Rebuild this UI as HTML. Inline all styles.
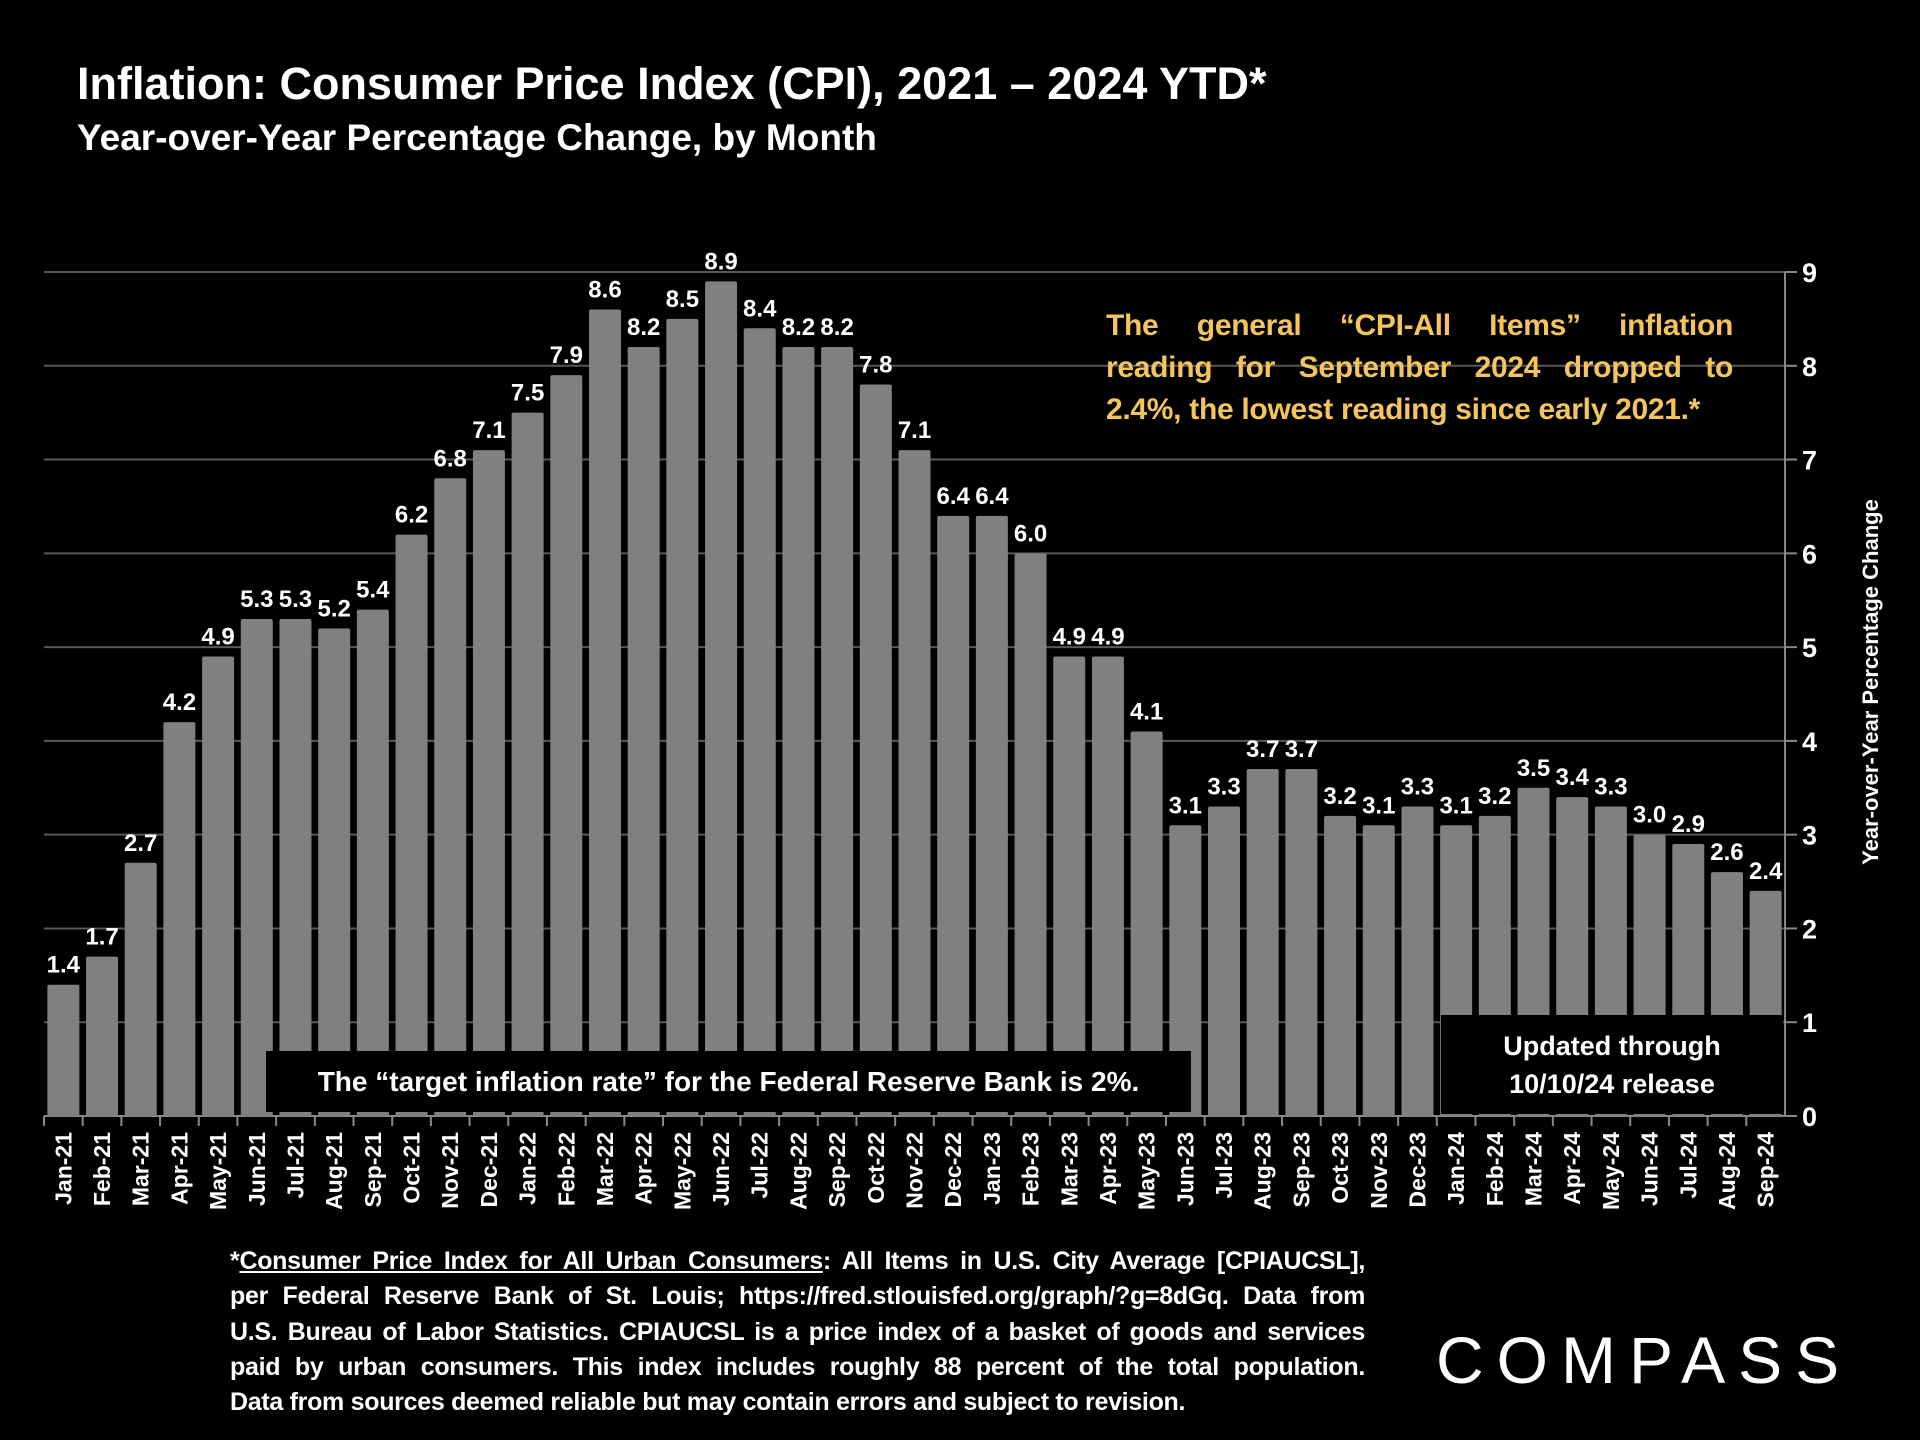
<!DOCTYPE html>
<html><head><meta charset="utf-8"><style>
html,body{margin:0;padding:0;background:#000;}
#wrap{position:relative;width:1920px;height:1440px;overflow:hidden;background:#000;font-family:"Liberation Sans",sans-serif;color:#fff;}
.t{position:absolute;font-weight:bold;}
.j{display:block;text-align:justify;text-align-last:justify;white-space:normal;}
.jl{display:block;text-align:left;white-space:nowrap;}
</style></head><body>
<div id="wrap">
<div class="t" style="left:77px;top:58px;font-size:45px;">Inflation: Consumer Price Index (CPI), 2021 – 2024 YTD*</div>
<div class="t" style="left:77px;top:117px;font-size:37px;">Year-over-Year Percentage Change, by Month</div>
<svg id="chart" width="1920" height="1440" style="position:absolute;left:0;top:0"></svg>
<div class="t" style="left:1106px;top:305px;width:627px;font-size:30px;line-height:42px;color:#f4c55e;letter-spacing:-0.3px;">
<span class="j">The general “CPI-All Items” inflation</span>
<span class="j">reading for September 2024 dropped to</span>
<span class="jl">2.4%, the lowest reading since early 2021.*</span></div>
<div class="t" style="left:266px;top:1051px;width:925px;height:61px;background:#000;font-size:28px;line-height:61px;text-align:center;">The “target inflation rate” for the Federal Reserve Bank is 2%.</div>
<div class="t" style="left:1441px;top:1015px;width:342px;height:99px;background:#000;font-size:27px;line-height:38px;text-align:center;padding-top:12px;box-sizing:border-box;">Updated through<br>10/10/24 release</div>
<div class="t" style="left:230px;top:1244px;width:1135px;font-size:25px;line-height:35.3px;letter-spacing:-0.3px;">
<span class="j">*<u>Consumer Price Index for All Urban Consumers</u>: All Items in U.S. City Average [CPIAUCSL],</span>
<span class="j">per Federal Reserve Bank of St. Louis; https://fred.stlouisfed.org/graph/?g=8dGq. Data from</span>
<span class="j">U.S. Bureau of Labor Statistics. CPIAUCSL is a price index of a basket of goods and services</span>
<span class="j">paid by urban consumers. This index includes roughly 88 percent of the total population.</span>
<span class="jl">Data from sources deemed reliable but may contain errors and subject to revision.</span></div>
<div style="position:absolute;left:1436px;top:1322px;font-size:66px;letter-spacing:13px;color:#fff;font-family:'Liberation Sans',sans-serif;">COMPASS</div>
</div>
<script>
const categories=["Jan-21","Feb-21","Mar-21","Apr-21","May-21","Jun-21","Jul-21","Aug-21","Sep-21","Oct-21","Nov-21","Dec-21","Jan-22","Feb-22","Mar-22","Apr-22","May-22","Jun-22","Jul-22","Aug-22","Sep-22","Oct-22","Nov-22","Dec-22","Jan-23","Feb-23","Mar-23","Apr-23","May-23","Jun-23","Jul-23","Aug-23","Sep-23","Oct-23","Nov-23","Dec-23","Jan-24","Feb-24","Mar-24","Apr-24","May-24","Jun-24","Jul-24","Aug-24","Sep-24"];
const values=[1.4,1.7,2.7,4.2,4.9,5.3,5.3,5.2,5.4,6.2,6.8,7.1,7.5,7.9,8.6,8.2,8.5,8.9,8.4,8.2,8.2,7.8,7.1,6.4,6.4,6.0,4.9,4.9,4.1,3.1,3.3,3.7,3.7,3.2,3.1,3.3,3.1,3.2,3.5,3.4,3.3,3.0,2.9,2.6,2.4];
const yTicks=[0,1,2,3,4,5,6,7,8,9];
const NS="http://www.w3.org/2000/svg";
const svg=document.getElementById('chart');
const L=44,R=1785,Y0=1116,Y9=272;
const slot=(R-L)/categories.length;
function x(i){return L+slot*i;}
function y(v){return Y0-(Y0-Y9)*v/9;}
function mk(tag,attrs){const e=document.createElementNS(NS,tag);for(const k in attrs)e.setAttribute(k,attrs[k]);svg.appendChild(e);return e;}
yTicks.forEach(t=>{
  if(t>0){const g=mk('line',{x1:L,x2:R,y1:y(t),y2:y(t),stroke:'#595959','stroke-width':2});
  
  }
  const tk=mk('line',{x1:R,x2:R+12,y1:y(t),y2:y(t),stroke:'#888','stroke-width':2});
  
  
  const lb=mk('text',{x:1802,y:y(t)+10,fill:'#fff','font-size':27,'font-weight':'bold','font-family':'Liberation Sans, sans-serif'});
  lb.textContent=t;
  
  
});
const ax=mk('line',{x1:R,x2:R,y1:Y9,y2:Y0,stroke:'#888','stroke-width':2});


const xa=mk('line',{x1:L,x2:R,y1:Y0,y2:Y0,stroke:'#888','stroke-width':2});


const bw=32;
categories.forEach((c,i)=>{
  const cx=x(i)+slot/2;
  const b=mk('rect',{x:cx-bw/2,y:y(values[i]),width:bw,height:Y0-y(values[i]),fill:'#808080',rx:2});
  
  
  const v=mk('text',{x:cx,y:y(values[i])-12,fill:'#fff','font-size':24,'font-weight':'bold','text-anchor':'middle','font-family':'Liberation Sans, sans-serif'});
  v.textContent=values[i].toFixed(1);
  
  
  const tk=mk('line',{x1:x(i),x2:x(i),y1:Y0,y2:Y0+10,stroke:'#888','stroke-width':2});
  
  
  const t=mk('text',{x:0,y:0,fill:'#fff','font-size':23,'font-weight':'bold','text-anchor':'end','font-family':'Liberation Sans, sans-serif',transform:'translate('+(cx+8)+','+(Y0+16)+') rotate(-90)'});
  t.textContent=c;
  
  
});
const yt=mk('text',{x:0,y:0,fill:'#fff','font-size':22,'font-weight':'bold','text-anchor':'middle','font-family':'Liberation Sans, sans-serif',transform:'translate(1878,682) rotate(-90)'});
yt.textContent='Year-over-Year Percentage Change';


</script>
</body></html>
